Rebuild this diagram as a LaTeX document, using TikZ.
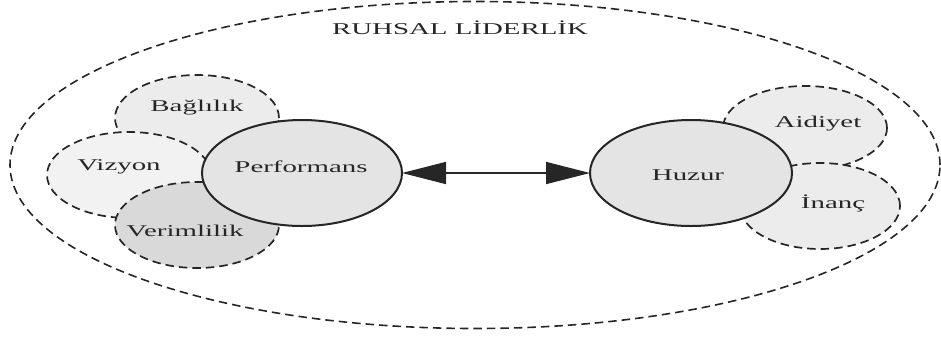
\documentclass[tikz,border=0pt]{standalone}
\usepackage{fontspec}
\setmainfont{Liberation Serif}
\usetikzlibrary{shapes.geometric,arrows.meta}
\definecolor{ink}{HTML}{262626}
\definecolor{fillA}{HTML}{ECECEC}
\definecolor{fillB}{HTML}{D9D9D9}
\definecolor{fillC}{HTML}{E4E4E4}
\newcommand{\wide}[1]{\scalebox{1.75}[1]{#1}}
\tikzset{
  sub/.style={ellipse, draw=ink, line width=1.7pt, dash pattern=on 8.5pt off 5pt, fill=fillA, inner sep=0pt, outer sep=0pt},
  core/.style={ellipse, draw=ink, line width=2pt, fill=fillC, inner sep=0pt, outer sep=0pt},
  outer/.style={ellipse, draw=ink, line width=1.6pt, dash pattern=on 8.5pt off 5pt, inner sep=0pt, outer sep=0pt},
  lbl/.style={text=ink, font=\fontsize{16.5}{18}\selectfont, inner sep=0pt},
  arr/.style={draw=ink, line width=1.6pt, {Triangle[length=44pt,width=22pt]}-{Triangle[length=44pt,width=22pt]}}
}
\begin{document}
\begin{tikzpicture}[x=1pt,y=-1pt]
\useasboundingbox (0,0) rectangle (941,338);
% outer boundary
\node[outer, minimum width=930pt, minimum height=327pt] (ruhsal) at (475,165) {};
% left cluster
\node[sub, minimum width=164pt, minimum height=86pt] (bag) at (197,118) {};
\node[sub, minimum width=164pt, minimum height=86pt, fill=fillA!70!white] (viz) at (129,175) {};
\node[sub, minimum width=164pt, minimum height=86pt, fill=fillB] (ver) at (197,225) {};
\node[core, minimum width=200pt, minimum height=106pt] (perf) at (302,173) {};
% right cluster
\node[sub, minimum width=164pt, minimum height=84pt] (aid) at (805,128) {};
\node[sub, minimum width=160pt, minimum height=86pt] (inan) at (820,206) {};
\node[core, minimum width=202pt, minimum height=106pt] (huz) at (691,173) {};
% arrow
\draw[arr] (perf) -- (huz);
% labels
\node[lbl] (tTitle) at (460,28) {\wide{RUHSAL LİDERLİK}};
\node[lbl] (tBag) at (197,108) {\wide{Bağlılık}};
\node[lbl] (tViz) at (119,167) {\wide{Vizyon}};
\node[lbl] (tVer) at (185,231) {\wide{Verimlilik}};
\node[lbl] (tPerf) at (301,167) {\wide{Performans}};
\node[lbl] (tHuz) at (688,175) {\wide{Huzur}};
\node[lbl] (tAid) at (818,124) {\wide{Aidiyet}};
\node[lbl] (tIn) at (833,203) {\wide{İnanç}};
\end{tikzpicture}
\end{document}
